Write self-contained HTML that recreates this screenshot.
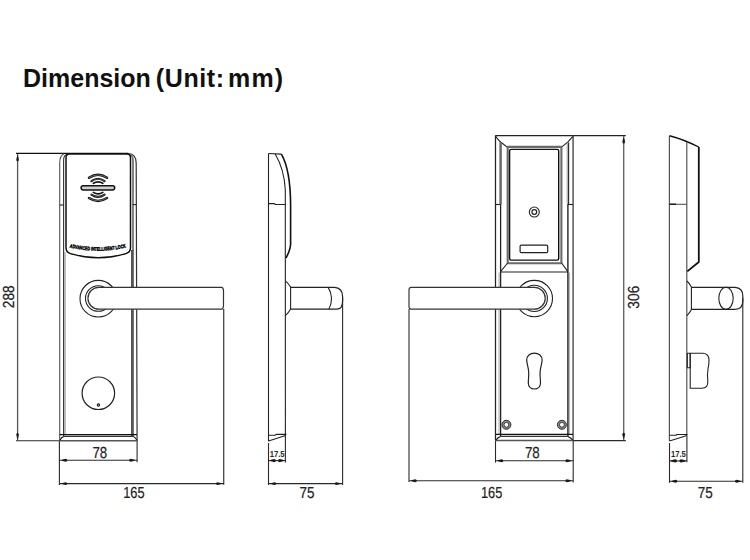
<!DOCTYPE html>
<html><head><meta charset="utf-8">
<style>
html,body{margin:0;padding:0;background:#fff;}
body{width:750px;height:560px;overflow:hidden;position:relative;font-family:"Liberation Sans",sans-serif;}
.tt{position:absolute;top:63.2px;font-size:25px;font-weight:bold;color:#111;white-space:nowrap;line-height:30px;}
svg{position:absolute;left:0;top:0;}
.t{font-family:"Liberation Sans",sans-serif;}
</style></head><body>
<div class="tt" style="left:23px;">Dimension</div>
<div class="tt" style="left:155.8px;letter-spacing:0.6px;">(Unit:</div>
<div class="tt" style="left:228px;letter-spacing:1.2px;">mm)</div>
<svg width="750" height="560" viewBox="0 0 750 560">

<g fill="none" stroke="#2a2a2a" stroke-width="1.1">
<line x1="16" y1="153.4" x2="64" y2="153.4" stroke="#111" stroke-width="1.4"/>
<line x1="17.6" y1="154" x2="17.6" y2="440.6" stroke="#555" stroke-width="1.3"/>
<line x1="16" y1="440.8" x2="60" y2="440.8"/>
<line x1="59.4" y1="441" x2="59.4" y2="485"/>
<line x1="137.1" y1="441" x2="137.1" y2="462.3"/>
<line x1="59.4" y1="460.3" x2="137.1" y2="460.3"/>
<line x1="223.7" y1="309" x2="223.7" y2="484.8" stroke="#444" stroke-width="1.3"/>
<line x1="59.4" y1="483.6" x2="223.7" y2="483.6"/>
<line x1="268.5" y1="443" x2="268.5" y2="485"/>
<line x1="285.4" y1="436" x2="285.4" y2="462.4"/>
<line x1="268.5" y1="460.6" x2="285.4" y2="460.6"/>
<line x1="342.6" y1="298" x2="342.6" y2="485"/>
<line x1="268.5" y1="483.6" x2="342.6" y2="483.6"/>
<line x1="495.5" y1="440.5" x2="495.5" y2="462.6"/>
<line x1="573.2" y1="440.5" x2="573.2" y2="482.4"/>
<line x1="495.5" y1="460.8" x2="573.2" y2="460.8"/>
<line x1="409" y1="309" x2="409" y2="482"/>
<line x1="409" y1="480.8" x2="573.2" y2="480.8"/>
<line x1="573" y1="135.6" x2="625.8" y2="135.6" stroke="#222" stroke-width="1.2"/>
<line x1="573" y1="440.6" x2="625.8" y2="440.6"/>
<line x1="623.7" y1="136" x2="623.7" y2="440.3" stroke="#666" stroke-width="1.4"/>
<line x1="669.5" y1="443" x2="669.5" y2="482.8"/>
<line x1="686.9" y1="436" x2="686.9" y2="462.3"/>
<line x1="669.5" y1="460.9" x2="686.9" y2="460.9"/>
<line x1="742.8" y1="298" x2="742.8" y2="482.8"/>
<line x1="669.5" y1="481.2" x2="742.8" y2="481.2"/>
</g>
<g fill="#1a1a1a" stroke="none">
<path transform="translate(17.60,155.00) rotate(90)" d="M0,0 Q2.70,-1.04 4.80,-1.30 Q6.35,-1.17 6.35,0 Q6.35,1.17 4.80,1.30 Q2.70,1.04 0,0Z"/>
<path transform="translate(17.60,439.40) rotate(-90)" d="M0,0 Q2.70,-1.04 4.80,-1.30 Q6.35,-1.17 6.35,0 Q6.35,1.17 4.80,1.30 Q2.70,1.04 0,0Z"/>
<path transform="translate(61.00,460.30) rotate(0)" d="M0,0 Q2.70,-1.16 4.80,-1.45 Q6.35,-1.30 6.35,0 Q6.35,1.30 4.80,1.45 Q2.70,1.16 0,0Z"/>
<path transform="translate(135.50,460.30) rotate(180)" d="M0,0 Q2.70,-1.16 4.80,-1.45 Q6.35,-1.30 6.35,0 Q6.35,1.30 4.80,1.45 Q2.70,1.16 0,0Z"/>
<path transform="translate(61.00,483.60) rotate(0)" d="M0,0 Q2.70,-1.16 4.80,-1.45 Q6.35,-1.30 6.35,0 Q6.35,1.30 4.80,1.45 Q2.70,1.16 0,0Z"/>
<path transform="translate(222.20,483.60) rotate(180)" d="M0,0 Q2.70,-1.16 4.80,-1.45 Q6.35,-1.30 6.35,0 Q6.35,1.30 4.80,1.45 Q2.70,1.16 0,0Z"/>
<path transform="translate(269.20,460.60) rotate(0)" d="M0,0 Q2.83,-1.36 5.04,-1.70 Q6.65,-1.53 6.65,0 Q6.65,1.53 5.04,1.70 Q2.83,1.36 0,0Z"/>
<path transform="translate(284.70,460.60) rotate(180)" d="M0,0 Q2.83,-1.36 5.04,-1.70 Q6.65,-1.53 6.65,0 Q6.65,1.53 5.04,1.70 Q2.83,1.36 0,0Z"/>
<path transform="translate(270.00,483.60) rotate(0)" d="M0,0 Q2.70,-1.16 4.80,-1.45 Q6.35,-1.30 6.35,0 Q6.35,1.30 4.80,1.45 Q2.70,1.16 0,0Z"/>
<path transform="translate(341.10,483.60) rotate(180)" d="M0,0 Q2.70,-1.16 4.80,-1.45 Q6.35,-1.30 6.35,0 Q6.35,1.30 4.80,1.45 Q2.70,1.16 0,0Z"/>
<path transform="translate(497.00,460.80) rotate(0)" d="M0,0 Q2.70,-1.16 4.80,-1.45 Q6.35,-1.30 6.35,0 Q6.35,1.30 4.80,1.45 Q2.70,1.16 0,0Z"/>
<path transform="translate(571.70,460.80) rotate(180)" d="M0,0 Q2.70,-1.16 4.80,-1.45 Q6.35,-1.30 6.35,0 Q6.35,1.30 4.80,1.45 Q2.70,1.16 0,0Z"/>
<path transform="translate(410.50,480.80) rotate(0)" d="M0,0 Q2.70,-1.16 4.80,-1.45 Q6.35,-1.30 6.35,0 Q6.35,1.30 4.80,1.45 Q2.70,1.16 0,0Z"/>
<path transform="translate(571.70,480.80) rotate(180)" d="M0,0 Q2.70,-1.16 4.80,-1.45 Q6.35,-1.30 6.35,0 Q6.35,1.30 4.80,1.45 Q2.70,1.16 0,0Z"/>
<path transform="translate(623.70,137.00) rotate(90)" d="M0,0 Q2.79,-1.08 4.96,-1.35 Q6.55,-1.22 6.55,0 Q6.55,1.22 4.96,1.35 Q2.79,1.08 0,0Z"/>
<path transform="translate(623.70,439.20) rotate(-90)" d="M0,0 Q2.79,-1.08 4.96,-1.35 Q6.55,-1.22 6.55,0 Q6.55,1.22 4.96,1.35 Q2.79,1.08 0,0Z"/>
<path transform="translate(670.20,460.90) rotate(0)" d="M0,0 Q2.88,-1.36 5.12,-1.70 Q6.75,-1.53 6.75,0 Q6.75,1.53 5.12,1.70 Q2.88,1.36 0,0Z"/>
<path transform="translate(686.20,460.90) rotate(180)" d="M0,0 Q2.88,-1.36 5.12,-1.70 Q6.75,-1.53 6.75,0 Q6.75,1.53 5.12,1.70 Q2.88,1.36 0,0Z"/>
<path transform="translate(671.00,481.20) rotate(0)" d="M0,0 Q2.70,-1.16 4.80,-1.45 Q6.35,-1.30 6.35,0 Q6.35,1.30 4.80,1.45 Q2.70,1.16 0,0Z"/>
<path transform="translate(741.30,481.20) rotate(180)" d="M0,0 Q2.70,-1.16 4.80,-1.45 Q6.35,-1.30 6.35,0 Q6.35,1.30 4.80,1.45 Q2.70,1.16 0,0Z"/>
</g>
<g fill="none" stroke="#222" stroke-width="1.1" stroke-linejoin="round">
<path d="M59.7,441 L59.7,163 C59.7,157.5 61,155 64.5,153.6" stroke="#555"/>
<path d="M64,153.4 L128.5,153.4" stroke="#111" stroke-width="1.4"/>
<path d="M128.5,153.5 C133.5,153.8 136.1,157 136.2,163 L137.1,441" stroke="#333" stroke-width="1.2"/>
<path d="M63.6,436.4 L63.6,160 C63.6,157 64.5,155 67.5,154" stroke="#333"/>
<path d="M133,251 L133,160 C133,157 132,155 129,154" stroke="#777" stroke-width="1.8"/>
<line x1="132.4" y1="250" x2="132.4" y2="436.4" stroke="#555" stroke-width="2.8"/>
<line x1="65" y1="252" x2="65" y2="435" stroke="#aaa" stroke-width="1.5"/>
<path d="M66,158 Q66,154.1 69.5,154.1 L127,154.1 Q130.5,154.1 130.5,158 L130.5,247.8 Q130.5,252.4 126,253.6 Q98.2,262 70.5,253.6 Q66,252.4 66,247.8 Z" stroke="#111" stroke-width="1.5"/>
<line x1="59.7" y1="205" x2="63.6" y2="205"/>
<line x1="132.7" y1="204.6" x2="136.4" y2="204.6"/>
<rect x="81.1" y="185.8" width="33.6" height="4.1" rx="2.05" stroke="#111" stroke-width="1.5" fill="#cfcfcf"/>
<path d="M89.00,177.70 Q98.00,171.90 107.00,177.70" stroke="#111" stroke-width="2.5" stroke-linecap="round"/><path d="M89.00,177.70 Q98.00,171.90 107.00,177.70" stroke="#8a8a8a" stroke-width="0.7" stroke-linecap="round"/><path d="M89.00,198.00 Q98.00,203.80 107.00,198.00" stroke="#111" stroke-width="2.5" stroke-linecap="round"/><path d="M89.00,198.00 Q98.00,203.80 107.00,198.00" stroke="#8a8a8a" stroke-width="0.7" stroke-linecap="round"/>
<path d="M91.40,181.10 Q98.00,176.50 104.60,181.10" stroke="#111" stroke-width="2.1" stroke-linecap="round"/><path d="M91.40,181.10 Q98.00,176.50 104.60,181.10" stroke="#9a9a9a" stroke-width="0.4" stroke-linecap="round"/><path d="M91.40,194.60 Q98.00,199.20 104.60,194.60" stroke="#111" stroke-width="2.1" stroke-linecap="round"/><path d="M91.40,194.60 Q98.00,199.20 104.60,194.60" stroke="#9a9a9a" stroke-width="0.4" stroke-linecap="round"/>
<path d="M93.40,183.30 Q98.10,180.30 102.80,183.30" stroke="#111" stroke-width="1.7" stroke-linecap="round"/><path d="M93.40,192.40 Q98.10,195.40 102.80,192.40" stroke="#111" stroke-width="1.7" stroke-linecap="round"/>
<path id="arcTxt" d="M69.6,247.4 Q98.2,254.2 127,247.2" stroke="none"/>
<text font-family="Liberation Sans,sans-serif" font-size="5.2" font-weight="bold" fill="#000" stroke="#000" stroke-width="0.45"><textPath href="#arcTxt" textLength="57" lengthAdjust="spacingAndGlyphs">ADVANCED INTELLIGENT LOCK</textPath></text>
<circle cx="98.3" cy="298.7" r="18.3"/>
<circle cx="98.3" cy="298.5" r="12.8"/>
<path d="M98.9,287.3 A11.8,11.8 0 0 0 98.9,309.2"/>
<path d="M98.9,287.3 L221.5,287.3 Q223.5,287.5 223.5,291 L223.5,305.5 Q223.5,309 221.5,309.2 L98.9,309.2 A10.95,10.95 0 0 1 98.9,287.3 Z" fill="#fff" stroke="#333" stroke-width="1.2"/>
<circle cx="98.35" cy="393.25" r="16.25" stroke-width="1.2"/>
<circle cx="98.4" cy="405" r="1.15" stroke="#111" stroke-width="1.1"/>
<line x1="59.3" y1="440.8" x2="137.3" y2="440.8" stroke="#555" stroke-width="1.5"/>
<line x1="59.6" y1="434.6" x2="136.9" y2="434.6" stroke="#111" stroke-width="1.2"/>
<line x1="63.6" y1="436.4" x2="133.4" y2="436.4" stroke="#333" stroke-width="1.3"/>
<path d="M63.6,436.4 Q61,437.5 59.9,440.2 M133.4,436.4 Q135.8,437.5 136.7,440.2" stroke="#111" stroke-width="1.1"/>
<line x1="268.5" y1="153.5" x2="268.5" y2="441.2"/>
<path d="M268.5,153.5 L281.4,154.1"/>
<path d="M275.2,154 C280,162 284.5,174 285.3,190 L285.4,436.5"/>
<path d="M281.4,154.1 C286.5,163 290.5,180 290.6,205 L290.6,244 C290.4,250 288,254 286,258" stroke="#111" stroke-width="1.6"/>
<path d="M268.5,203.6 L273.3,203.6 Q274.6,203.7 275.8,204.5 L285.3,204.5" stroke="#222" stroke-width="1.2"/>
<path d="M285.4,280.8 Q288.6,283.5 290.6,287 L290.6,309 Q288.6,312.8 285.4,315.6"/>
<path d="M290.6,287.4 L334.4,287.4 Q342.6,288 342.6,296.5 L342.6,301 Q342.6,309.2 336.8,309.2 L290.6,309.2" stroke-width="1.2"/>
<path d="M328.2,287.4 Q334.6,298 328.8,309.2"/>
<path d="M268.5,435.2 L275.3,435.2 L276.3,434.4 L286.4,434.4"/>
<path d="M268.5,441 Q277,438.5 285.6,435.6"/>
<line x1="495.3" y1="135.6" x2="573.2" y2="135.6" stroke="#222" stroke-width="1.2"/>
<line x1="495.5" y1="135.6" x2="495.5" y2="440.5" stroke-width="1.25"/>
<line x1="573.1" y1="135.6" x2="573.1" y2="440.5" stroke="#555" stroke-width="1.5"/>
<path d="M495.6,136.3 L500.2,141.8 Q501,142.4 501.6,142.8 L507.8,147.6"/>
<path d="M573,136.3 L567.9,141.8 L561.3,147.4"/>
<line x1="500.6" y1="142.3" x2="500.6" y2="204.5" stroke="#6a6a6a" stroke-width="2.5"/>
<line x1="500.6" y1="204.5" x2="500.6" y2="436.4" stroke="#222" stroke-width="1.3"/>
<line x1="568.6" y1="142.5" x2="568.6" y2="204.5" stroke="#222" stroke-width="1.1"/>
<line x1="567.2" y1="142.5" x2="567.2" y2="204.5" stroke="#888" stroke-width="0.9"/>
<line x1="569.3" y1="272.5" x2="569.3" y2="434" stroke="#b5b5b5" stroke-width="1.4"/>
<line x1="499.1" y1="272.5" x2="499.1" y2="434" stroke="#bbb" stroke-width="1.4"/>
<line x1="567.9" y1="204.5" x2="567.9" y2="436.4" stroke="#222" stroke-width="1.4"/>
<line x1="495.5" y1="204.5" x2="500.6" y2="204.5"/>
<line x1="567.6" y1="204.5" x2="573.1" y2="204.5"/>
<rect x="507.7" y="146.9" width="53.7" height="116.3" stroke="#6a6a6a" stroke-width="2.1"/>
<rect x="509.6" y="149.4" width="49.1" height="110.7" rx="1.5" stroke="#111" stroke-width="1.4"/>
<path d="M507.6,263 L500.6,271.6 M561.6,263 L567.8,271.6"/>
<line x1="500.5" y1="272" x2="568" y2="272" stroke-width="1.2"/>
<circle cx="534.3" cy="212.05" r="5"/>
<circle cx="534.3" cy="212.05" r="2.4" stroke-width="1.2"/>
<rect x="520.1" y="245.1" width="27.6" height="7.5" rx="1.2" stroke-width="1.2"/>
<circle cx="534.3" cy="298.6" r="18.2"/>
<circle cx="534.3" cy="298.4" r="13.1"/>
<path d="M534.3,287.3 A11.8,11.8 0 0 1 534.3,309.2"/>
<path d="M534.3,287.3 L411,287.3 Q409,287.5 409,290 L409,306.5 Q409,309 411,309.2 L534.3,309.2 A10.95,10.95 0 0 0 534.3,287.3 Z" fill="#fff" stroke="#333" stroke-width="1.2"/>
<path d="M534.4,353.1 C538.8,353.1 542.1,356 542.1,360 C542.1,364 540.3,367 540.1,372 C539.9,376 540.5,380 540.5,383 C540.5,386.5 538,389 534.4,389 C530.8,389 528.3,386.5 528.3,383 C528.3,380 528.9,376 528.7,372 C528.5,367 526.7,364 526.7,360 C526.7,356 530,353.1 534.4,353.1 Z" stroke-width="1.2"/>
<circle cx="506.4" cy="424.8" r="3.5" stroke="#8a8a8a" stroke-width="2.4"/>
<circle cx="506.4" cy="424.8" r="4.5" stroke="#2a2a2a" stroke-width="0.9"/>
<circle cx="506.4" cy="424.8" r="2.4" stroke="#2a2a2a" stroke-width="0.8"/>
<circle cx="561.9" cy="424.8" r="3.5" stroke="#8a8a8a" stroke-width="2.4"/>
<circle cx="561.9" cy="424.8" r="4.5" stroke="#2a2a2a" stroke-width="0.9"/>
<circle cx="561.9" cy="424.8" r="2.4" stroke="#2a2a2a" stroke-width="0.8"/>
<line x1="495.5" y1="440.6" x2="573.2" y2="440.6" stroke="#555" stroke-width="1.5"/>
<line x1="495.6" y1="434.4" x2="573" y2="434.4" stroke="#111" stroke-width="1.2"/>
<line x1="500.5" y1="436.4" x2="567.8" y2="436.4" stroke="#333" stroke-width="1.3"/>
<path d="M500.5,436.4 Q497.5,437.5 495.9,440.2 M567.8,436.4 Q571,437.5 572.7,440.2" stroke="#111" stroke-width="1.1"/>
<line x1="669.4" y1="135.7" x2="669.4" y2="441" stroke="#555" stroke-width="1.2"/>
<path d="M669.5,135.7 Q684,139.5 698.7,147" stroke="#111" stroke-width="1.4"/>
<line x1="686.8" y1="142" x2="686.8" y2="436" stroke="#555" stroke-width="1.2"/>
<path d="M698.8,147 L698.8,262 L687.3,271.4" stroke="#111" stroke-width="1.8"/>
<line x1="669.5" y1="204.3" x2="686.9" y2="204.3" stroke="#555"/>
<line x1="669.5" y1="204.2" x2="676" y2="204.2" stroke="#111" stroke-width="1.3"/>
<path d="M686.9,281 Q689.8,283.5 691.4,287 L691.4,309.6 Q689.8,313 686.9,315.6"/>
<path d="M691.4,287.4 L735,287.4 Q742.8,287.8 742.8,296 L742.8,301 Q742.8,309.3 735,309.3 L691.4,309.3" stroke-width="1.2"/>
<ellipse cx="726" cy="298.3" rx="7.2" ry="11"/>
<rect x="687.3" y="353.3" width="2.9" height="14.5"/>
<path d="M690.2,353.3 L703,353.3 Q708.8,354 709,359.5 Q709.2,363 708,369 Q707,375 707.8,381 Q708.3,388 702,388.2 L690.2,388.2 Z"/>
<path d="M669.5,435.3 L676,435.3 L677,434.5 L687.5,434.5"/>
<path d="M669.5,441 Q678,438.5 686.9,435.6"/>
</g>
<g class="t" text-rendering="geometricPrecision" font-size="16" fill="#222" stroke="#222" stroke-width="0.2" text-anchor="middle">
<text transform="translate(99.8,458.2) scale(0.83,1)">78</text>
<text transform="translate(133.9,498.2) scale(0.8,1)">165</text>
<text transform="translate(306.9,498.2) scale(0.84,1)">75</text>
<text transform="translate(532.3,458.2) scale(0.83,1)">78</text>
<text transform="translate(491.6,498.2) scale(0.8,1)">165</text>
<text transform="translate(705.2,498.3) scale(0.84,1)">75</text>
<text transform="translate(14.2,296.8) rotate(-90) scale(0.86,1)">288</text>
<text transform="translate(639.4,297.2) rotate(-90) scale(0.86,1)">306</text>
</g>
<g class="t" font-size="9.6" fill="#2a2a2a" text-anchor="middle" font-weight="bold">
<text transform="translate(277.1,456.6) scale(0.8,1)">17.5</text>
<text transform="translate(678.4,456.7) scale(0.8,1)">17.5</text>
</g>
</svg>
</body></html>
